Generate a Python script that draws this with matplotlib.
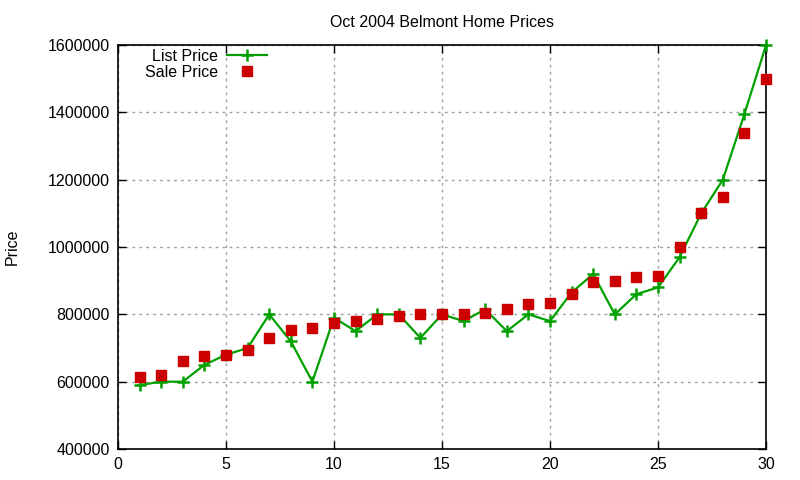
import matplotlib
matplotlib.use("Agg")
import matplotlib.pyplot as plt

house = list(range(1, 31))
list_price = [590000, 600000, 600000, 650000, 680000, 700000, 800000, 720000, 600000, 790000,
              750000, 800000, 800000, 730000, 800000, 780000, 815000, 750000, 800000, 780000,
              865000, 920000, 800000, 860000, 880000, 970000, 1100000, 1200000, 1395000, 1600000]
sale_price = [615000, 620000, 660000, 675000, 680000, 695000, 730000, 755000, 760000, 775000,
              780000, 785000, 795000, 800000, 800000, 800000, 805000, 815000, 830000, 835000,
              860000, 895000, 900000, 910000, 915000, 1000000, 1100000, 1150000, 1340000, 1500000]
xticks = [0, 5, 10, 15, 20, 25, 30]
yticks = [400000, 600000, 800000, 1000000, 1200000, 1400000, 1600000]

plt.rcParams['font.family'] = ['Liberation Sans', 'DejaVu Sans']
plt.rcParams['font.size'] = 11.5

fig = plt.figure(figsize=(8, 4.8), dpi=100)
ax = fig.add_axes([0.1475, 0.0646, 0.81, 0.8414])

ax.plot(house, list_price, color='#00a000', lw=1.6, marker='+', ms=8, mew=1.8,
        label='List Price', zorder=3, clip_on=False)
ax.plot(house, sale_price, ls='none', color='#cc0000', marker='s', ms=6.8,
        label='Sale Price', zorder=4, clip_on=False)

ax.set_xlim(0, 30)
ax.set_ylim(400000, 1600000)
ax.set_xticks(xticks)
ax.set_yticks(yticks)
ax.set_yticklabels([str(v) for v in yticks])
ax.tick_params(direction='in', top=True, right=True, length=6, width=1, pad=6)
ax.grid(True, color='#a0a0a0', ls=(0, (2, 3)), lw=1)
for s in ax.spines.values():
    s.set_linewidth(1.2)

ax.set_title('Oct 2004 Belmont Home Prices', fontsize=11.5, pad=13)
ax.set_ylabel('Price', labelpad=20)

leg = ax.legend(loc='upper left', bbox_to_anchor=(0.024, 1.018), frameon=False,
                markerfirst=False, handlelength=2.5, handletextpad=0.6,
                labelspacing=0.05, borderaxespad=0.3)
for t in leg.get_texts():
    t.set_ha('right')

fig.savefig('out.png', dpi=100)
